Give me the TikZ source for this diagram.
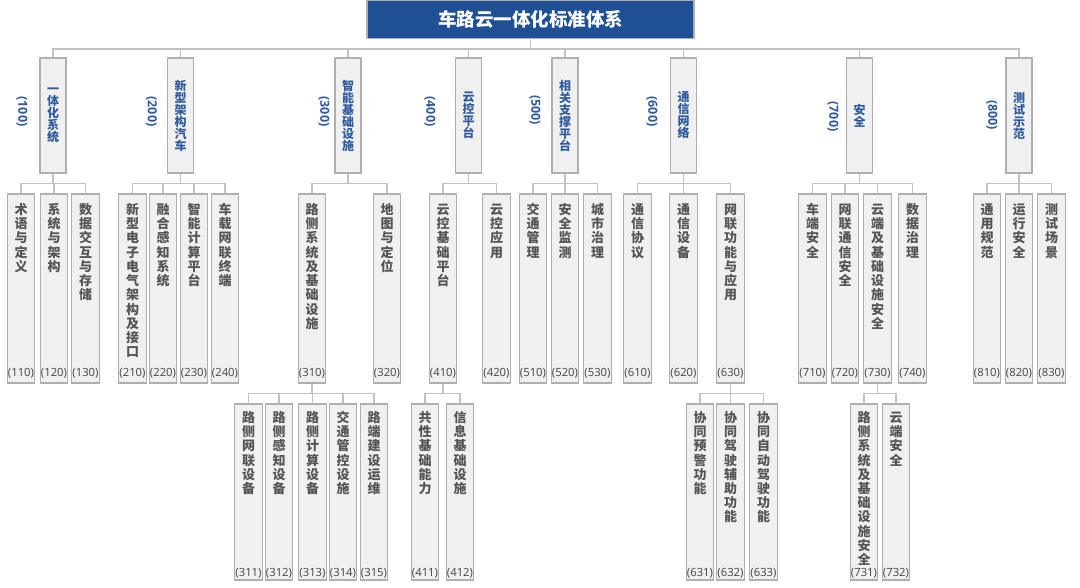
\documentclass[tikz,border=0pt]{standalone}
\usepackage{fontspec}
\setmainfont{Open Sans}
\newfontfamily\cjk{Noto Sans CJK SC}
\usetikzlibrary{calc}
\definecolor{titleblue}{HTML}{1F5096}
\definecolor{lblue}{HTML}{2F5A9E}
\definecolor{boxfill}{HTML}{F0F0F0}
\definecolor{boxdraw}{HTML}{AFAFAF}
\definecolor{conncol}{HTML}{C2C2C2}
\definecolor{txtgray}{HTML}{555555}
\definecolor{numgray}{HTML}{444444}
\makeatletter
\newcommand\vstack[2]{\vtop{\baselineskip=#1\lineskip=0pt\lineskiplimit=-20pt\@tfor\vch:=#2\do{\hbox to 1em{\hss\vch\hss}}}}
\makeatother
\tikzset{
  titlebox/.style={draw=boxdraw, fill=titleblue, line width=1.2pt, minimum width=327pt, minimum height=38pt, inner sep=0pt, text=white, font=\cjk\bfseries\fontsize{18.5}{20}\selectfont},
  lonebox/.style={draw=boxdraw, fill=boxfill, line width=1.2pt, minimum width=26pt, minimum height=115pt, inner sep=0pt, text=lblue, font=\cjk\bfseries\fontsize{12}{12}\selectfont},
  ltwobox/.style={draw=boxdraw, fill=boxfill, line width=1.2pt, minimum width=27.5pt, minimum height=189pt, inner sep=0pt},
  lthreebox/.style={draw=boxdraw, fill=boxfill, line width=1.2pt, minimum width=27.5pt, minimum height=176pt, inner sep=0pt},
  vtxt/.style={inner sep=0pt, text=txtgray, font=\cjk\bfseries\fontsize{13}{14}\selectfont, anchor=base},
  numtxt/.style={inner sep=0pt, text=numgray, font=\fontsize{11.3}{12}\selectfont},
  lablab/.style={inner sep=0pt, text=lblue, rotate=-90, font=\bfseries\fontsize{12.5}{12}\selectfont},
  conn/.style={draw=conncol, line width=1.5pt},
}
\newcommand\lone[5]{%
  \node[lonebox] (#1) at (#2,115.5) {\vstack{12pt}{#3}};
  \node[lablab] (#1l) at (#4,#5) {(#1)};
  \draw[conn] (title.south) -- ++(0,10) -| (#1.north);
}
\newcommand\ltwo[3]{%
  \node[ltwobox] (#1) at (#2,288.5) {};
  \node[vtxt] (#1t) at ($(#1.north)+(0,21)$) {\vstack{14.25pt}{#3}};
  \node[numtxt] (#1n) at ($(#1.south)+(0,-10)$) {(#1)};
}
\newcommand\lthree[3]{%
  \node[lthreebox] (#1) at (#2,492) {};
  \node[vtxt] (#1t) at ($(#1.north)+(0,19)$) {\vstack{14.2pt}{#3}};
  \node[numtxt] (#1n) at ($(#1.south)+(0,-7.5)$) {(#1)};
}
\newcommand\link[2]{\draw[conn] (#1.south) -- ++(0,10) -| (#2.north);}
\begin{document}
\begin{tikzpicture}[x=1pt,y=-1pt]
\useasboundingbox[fill=white] (0,0) rectangle (1080,587);
\node[titlebox] (title) at (530.5,19.5) {车路云一体化标准体系};
% level 1
\lone{100}{53}{一体化系统}{22}{111.5}
\lone{200}{180.5}{新型架构汽车}{151.5}{111.5}
\lone{300}{348}{智能基础设施}{324}{111.5}
\lone{400}{468.5}{云控平台}{430}{111.5}
\lone{500}{565}{相关支撑平台}{535}{110}
\lone{600}{683.5}{通信网络}{652}{111.5}
\lone{700}{859.5}{安全}{833}{116.5}
\lone{800}{1019}{测试示范}{992}{115}
% level 2
\ltwo{110}{21}{术语与定义}
\ltwo{120}{54}{系统与架构}
\ltwo{130}{85.5}{数据交互与存储}
\ltwo{210}{132.5}{新型电子电气架构及接口}
\ltwo{220}{163}{融合感知系统}
\ltwo{230}{194}{智能计算平台}
\ltwo{240}{225}{车载网联终端}
\ltwo{310}{312}{路侧系统及基础设施}
\ltwo{320}{387}{地图与定位}
\ltwo{410}{443}{云控基础平台}
\ltwo{420}{496.5}{云控应用}
\ltwo{510}{533}{交通管理}
\ltwo{520}{565}{安全监测}
\ltwo{530}{597.5}{城市治理}
\ltwo{610}{637.5}{通信协议}
\ltwo{620}{683.5}{通信设备}
\ltwo{630}{730.5}{网联功能与应用}
\ltwo{710}{812.5}{车端安全}
\ltwo{720}{845}{网联通信安全}
\ltwo{730}{877.5}{云端及基础设施安全}
\ltwo{740}{912.5}{数据治理}
\ltwo{810}{987}{通用规范}
\ltwo{820}{1019}{运行安全}
\ltwo{830}{1051.5}{测试场景}
% level 3
\lthree{311}{248.5}{路侧网联设备}
\lthree{312}{279}{路侧感知设备}
\lthree{313}{312.5}{路侧计算设备}
\lthree{314}{343}{交通管控设施}
\lthree{315}{374}{路端建设运维}
\lthree{411}{425}{共性基础能力}
\lthree{412}{460}{信息基础设施}
\lthree{631}{700}{协同预警功能}
\lthree{632}{730.5}{协同驾驶辅助功能}
\lthree{633}{763.5}{协同自动驾驶功能}
\lthree{731}{864}{路侧系统及基础设施安全}
\lthree{732}{896}{云端安全}
% connectors
\link{100}{110}\link{100}{120}\link{100}{130}
\link{200}{210}\link{200}{220}\link{200}{230}\link{200}{240}
\link{300}{310}\link{300}{320}
\link{400}{410}\link{400}{420}
\link{500}{510}\link{500}{520}\link{500}{530}
\link{600}{610}\link{600}{620}\link{600}{630}
\link{700}{710}\link{700}{720}\link{700}{730}\link{700}{740}
\link{800}{810}\link{800}{820}\link{800}{830}
\link{310}{311}\link{310}{312}\link{310}{313}\link{310}{314}\link{310}{315}
\link{410}{411}\link{410}{412}
\link{630}{631}\link{630}{632}\link{630}{633}
\link{730}{731}\link{730}{732}
\end{tikzpicture}
\end{document}
